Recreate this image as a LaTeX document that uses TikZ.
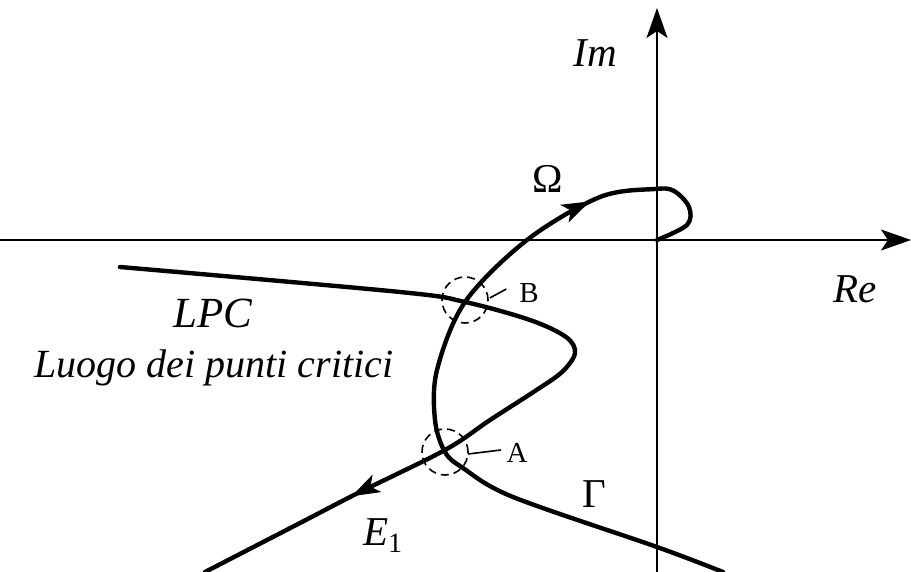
\documentclass[tikz,border=0pt]{standalone}
\usepackage{fontspec}
\setmainfont{Liberation Serif}
\usetikzlibrary{arrows.meta,decorations.markings}
\begin{document}
\begin{tikzpicture}[x=1pt,y=-1pt,
  axis/.style={line width=1.9pt,-{Stealth[length=30pt,width=21pt,inset=7pt]}},
  curve/.style={line width=4.4pt,line join=round,line cap=round},
  tip/.style={decoration={markings,mark=at position #1 with {\arrow{Stealth[length=28pt,width=19pt,inset=7pt]}}},postaction=decorate},
  lab/.style={inner sep=0pt,anchor=base,font=\fontsize{41}{44}\selectfont},
  small/.style={inner sep=0pt,anchor=base,font=\fontsize{29}{32}\selectfont},
  ring/.style={line width=1.6pt,dash pattern=on 8pt off 5pt},
  lead/.style={line width=1.6pt}]
\useasboundingbox (0,0) rectangle (911,572);
% axes
\coordinate (xs) at (0,240);
\coordinate (xe) at (911,240);
\coordinate (ys) at (657,572);
\coordinate (ye) at (657,8);
\draw[axis] (xs) -- (xe);
\draw[axis] (ys) -- (ye);
% Gamma / Omega curve
\draw[curve,tip=0.795] plot[smooth,tension=0.55] coordinates {
 (723,572) (657,547) (513,497) (463,468) (445,452) (435,420) (437,370) (465,302)
 (527,240) (600,197) (655,189) (674,191) (689,207) (687,225) (657,240)};
% LPC / E1 curve
\draw[curve,tip=0.818] plot[smooth,tension=0.55] coordinates {
 (120,267) (400,292) (465,302) (530,320) (566,337) (575,353) (562,372) (535,391)
 (490,420) (445,450) (358,493) (300,523) (205,572)};
% dashed circles
\node[ring,draw,circle,minimum size=46pt,inner sep=0pt] (cB) at (465,300) {};
\node[ring,draw,circle,minimum size=46pt,inner sep=0pt] (cA) at (445,452) {};
% labels
\node[lab] (im) at (595,67) {\itshape Im};
\node[lab] (re) at (855,303) {\itshape Re};
\node[lab,font=\fontsize{43}{46}\selectfont] (lpc) at (213,327) {\itshape LPC};
\node[lab,font=\fontsize{40}{44}\selectfont] (luogo) at (214,377) {\itshape Luogo dei punti critici};
\node[lab] (om) at (548,193) {Ω};
\node[lab] (ga) at (594,507) {Γ};
\node[small] (A) at (517,462) {A};
\node[small] (B) at (529,302) {B};
\node[lab,anchor=base west] (e1) at (363,545) {\itshape E\fontsize{28}{30}\selectfont\raisebox{-7pt}{\upshape 1}};
% leaders
\draw[lead] (cB.east) ++(1,-2) -- (A.west |- 0,289) ;
\draw[lead] (468,454) -- (501,450);
\end{tikzpicture}
\end{document}
